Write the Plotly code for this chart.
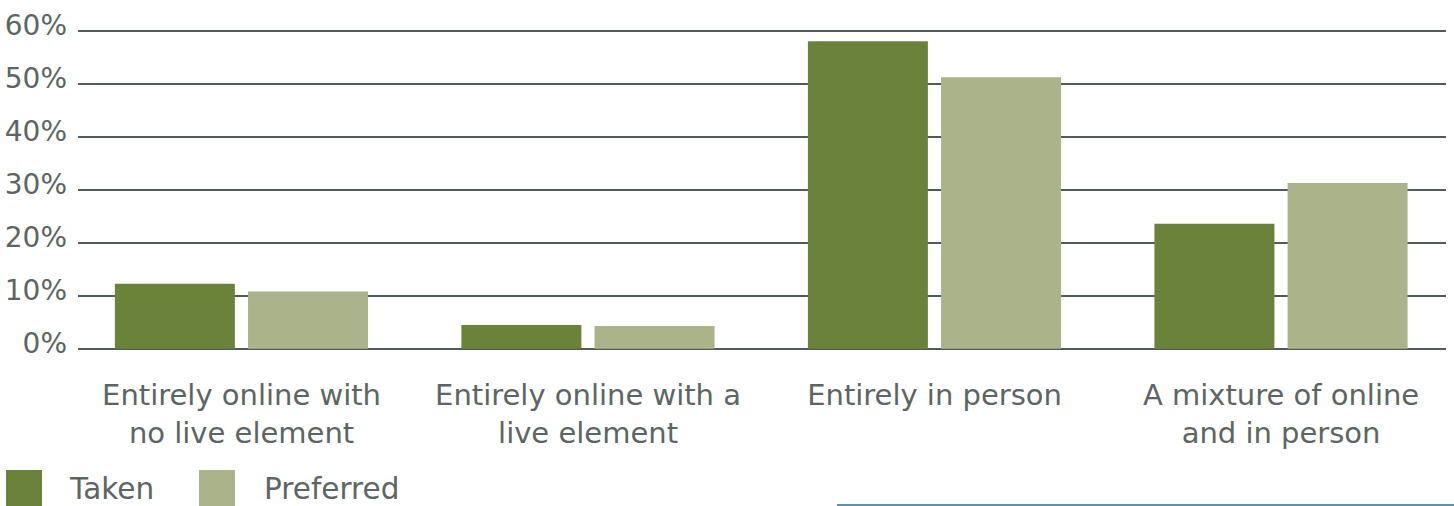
import plotly.graph_objects as go

categories = [
    "Entirely online with<br>no live element",
    "Entirely online with a<br>live element",
    "Entirely in person",
    "A mixture of online<br>and in person",
]
taken = [12.3, 4.5, 58.1, 23.6]
preferred = [10.8, 4.3, 51.3, 31.3]
series_names = ["Taken", "Preferred"]
y_ticks = [0, 10, 20, 30, 40, 50, 60]
y_tick_labels = [f"{v}%" for v in y_ticks]

TAKEN_COLOR = "#6b823b"
PREF_COLOR = "#abb38a"
TEXT_COLOR = "#5c6563"
GRID_COLOR = "#525b59"
FONT = "DejaVu Sans"

W, H = 1454, 506
ML, MR, MT, MB = 78, 8, 26, 152
PW, PH = W - ML - MR, H - MT - MB

def px_x(px):
    return (px - ML) / PW

def px_y(py):
    return (H - MB - py) / PH

fig = go.Figure()
fig.add_trace(go.Bar(x=categories, y=taken, name=series_names[0],
                     marker=dict(color=TAKEN_COLOR, line=dict(width=0)),
                     width=0.3463, offset=-0.3655, showlegend=False))
fig.add_trace(go.Bar(x=categories, y=preferred, name=series_names[1],
                     marker=dict(color=PREF_COLOR, line=dict(width=0)),
                     width=0.3463, offset=0.0188, showlegend=False))

fig.update_layout(
    width=W, height=H,
    margin=dict(l=ML, r=MR, t=MT, b=MB, autoexpand=False),
    paper_bgcolor="white", plot_bgcolor="white",
    font=dict(family=FONT, color=TEXT_COLOR, size=27),
    showlegend=False,
)
fig.update_xaxes(type="category", range=[-0.4719, 3.476], automargin=False,
                 showgrid=False, showline=False, ticks="",
                 tickfont=dict(size=29, color=TEXT_COLOR, family=FONT),
                 ticklabelstandoff=21)
fig.update_yaxes(range=[-1, 61], tickvals=y_ticks, ticktext=y_tick_labels,
                 automargin=False,
                 showgrid=True, gridcolor=GRID_COLOR, gridwidth=2,
                 zeroline=True, zerolinecolor=GRID_COLOR, zerolinewidth=2,
                 showline=False, ticks="",
                 tickfont=dict(size=28, color=TEXT_COLOR, family=FONT),
                 ticklabelstandoff=10, ticklabelshift=-6)

# legend drawn as swatches + labels
legend_items = [(6, 67, TAKEN_COLOR, series_names[0]),
                (199, 262, PREF_COLOR, series_names[1])]
for sx, tx, col, label in legend_items:
    fig.add_shape(type="rect", xref="paper", yref="paper",
                  x0=px_x(sx), x1=px_x(sx + 36), y0=px_y(506), y1=px_y(470),
                  fillcolor=col, line=dict(width=0), layer="above")
    fig.add_annotation(xref="paper", yref="paper", x=px_x(tx), y=px_y(489),
                       text=label, showarrow=False, xanchor="left",
                       yanchor="middle",
                       font=dict(size=29.5, color=TEXT_COLOR, family=FONT))

# thin decorative rule at bottom right
fig.add_shape(type="line", xref="paper", yref="paper",
              x0=px_x(837), x1=px_x(1454), y0=px_y(505), y1=px_y(505),
              line=dict(color="#1f7096", width=1.5))

fig.write_html("out.html",
               config={"displayModeBar": False},
               post_script="document.body.style.margin='0';"
                           "document.body.style.overflow='hidden';")
